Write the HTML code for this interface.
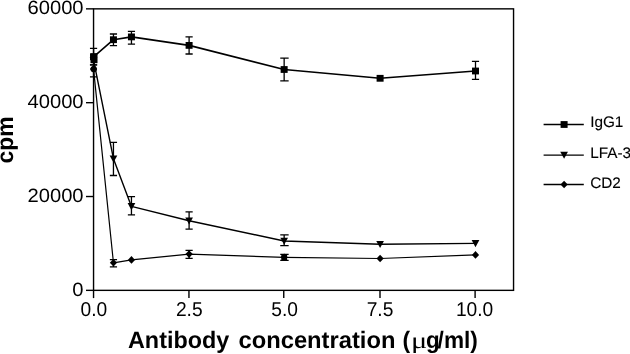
<!DOCTYPE html>
<html><head><meta charset="utf-8"><title>chart</title>
<style>
html,body{margin:0;padding:0;background:#fff;}
body{width:630px;height:354px;overflow:hidden;}
svg{display:block;filter:grayscale(1);}
text{font-family:"Liberation Sans",sans-serif;fill:#000;text-rendering:geometricPrecision;}
.b{font-weight:bold;}
</style></head><body>
<svg width="630" height="354" viewBox="0 0 630 354">
<rect x="0" y="0" width="630" height="354" fill="#fff"/>

<g stroke="#000" stroke-width="1.4" fill="none" stroke-linecap="butt">
<rect x="93.55" y="8.85" width="420" height="281.5"/>
<line x1="86" y1="290.35" x2="93.55" y2="290.35"/>
<line x1="86" y1="196.52" x2="93.55" y2="196.52"/>
<line x1="86" y1="102.68" x2="93.55" y2="102.68"/>
<line x1="86" y1="8.85" x2="93.55" y2="8.85"/>
<line x1="93.55" y1="290.35" x2="93.55" y2="298.1"/>
<line x1="188.95" y1="290.35" x2="188.95" y2="298.1"/>
<line x1="283.75" y1="290.35" x2="283.75" y2="298.1"/>
<line x1="380" y1="290.35" x2="380" y2="298.1"/>
<line x1="475.1" y1="290.35" x2="475.1" y2="298.1"/>
</g>
<text transform="translate(83.6 295.65) scale(1.052 1)" font-size="19.2" text-anchor="end">0</text>
<text transform="translate(83.6 201.82) scale(1.052 1)" font-size="19.2" text-anchor="end">20000</text>
<text transform="translate(83.6 107.98) scale(1.052 1)" font-size="19.2" text-anchor="end">40000</text>
<text transform="translate(83.6 14.15) scale(1.052 1)" font-size="19.2" text-anchor="end">60000</text>
<text transform="translate(93.85 315.6) scale(0.96 1)" font-size="20" text-anchor="middle">0.0</text>
<text transform="translate(189.24 315.6) scale(0.96 1)" font-size="20" text-anchor="middle">2.5</text>
<text transform="translate(284.62 315.6) scale(0.96 1)" font-size="20" text-anchor="middle">5.0</text>
<text transform="translate(380.01 315.6) scale(0.96 1)" font-size="20" text-anchor="middle">7.5</text>
<text transform="translate(474.6 315.6) scale(0.96 1)" font-size="20" text-anchor="middle">10.0</text>
<text class="b" transform="translate(128.0 347.6) scale(0.986 1)" font-size="23.7">Antibody</text>
<text class="b" transform="translate(238.5 347.6) scale(1.002 1)" font-size="23.7">concentration</text>
<text class="b" transform="translate(402.6 347.6) scale(0.97 1)" font-size="23.7">(</text>
<text transform="translate(410.9 347.6) scale(1.32 1)" font-family="Liberation Serif" font-size="23" style="font-family:'Liberation Serif',serif">μ</text>
<text class="b" transform="translate(425.9 347.6) scale(0.943 1)" font-size="23.7">g</text>
<text class="b" transform="translate(437.6 347.6) scale(0.955 1)" font-size="23.7">/ml)</text>
<text class="b" transform="translate(13.3 163.4) rotate(-90) scale(0.98 1)" font-size="23.3">cpm</text>
<polyline points="93.55,56.8 113.45,39.7 131.45,36.9 189.1,45.4 284.15,69.5 380.1,78.3 475.5,71" fill="none" stroke="#000" stroke-width="1.6" stroke-linejoin="round"/>
<path d="M93.55 48.3V64.9M89.95 48.3H97.15M89.95 64.9H97.15" stroke="#000" stroke-width="1.3" fill="none"/>
<rect x="90.05" y="53.4" width="7" height="6.8" fill="#000"/>
<path d="M113.45 34V45.6M109.85 34H117.05M109.85 45.6H117.05" stroke="#000" stroke-width="1.3" fill="none"/>
<rect x="109.95" y="36.3" width="7" height="6.8" fill="#000"/>
<path d="M131.45 31.4V44.1M127.85 31.4H135.05M127.85 44.1H135.05" stroke="#000" stroke-width="1.3" fill="none"/>
<rect x="127.95" y="33.5" width="7" height="6.8" fill="#000"/>
<path d="M189.1 36.8V54M185.5 36.8H192.7M185.5 54H192.7" stroke="#000" stroke-width="1.3" fill="none"/>
<rect x="185.6" y="42" width="7" height="6.8" fill="#000"/>
<path d="M284.15 58.2V80.8M280.25 58.2H288.65M280.25 80.8H288.65" stroke="#000" stroke-width="1.3" fill="none"/>
<rect x="280.65" y="66.1" width="7" height="6.8" fill="#000"/>
<rect x="376.6" y="74.9" width="7" height="6.8" fill="#000"/>
<path d="M475.5 61.3V79.4M471.9 61.3H479.1M471.9 79.4H479.1" stroke="#000" stroke-width="1.3" fill="none"/>
<rect x="472" y="67.6" width="7" height="6.8" fill="#000"/>
<polyline points="93.55,60.2 113.45,158.7 131.45,206.4 189.1,220.7 284.15,241 380.1,244.3 475.5,243.4" fill="none" stroke="#000" stroke-width="1.4" stroke-linejoin="round"/>
<path d="M89.7 56.9H97.4L93.55 63.95Z" fill="#000"/>
<path d="M113.45 142.3V175.5M109.85 142.3H117.05M109.85 175.5H117.05" stroke="#000" stroke-width="1.3" fill="none"/>
<path d="M109.6 155.4H117.3L113.45 162.45Z" fill="#000"/>
<path d="M131.45 196.7V214.9M127.85 196.7H135.05M127.85 214.9H135.05" stroke="#000" stroke-width="1.3" fill="none"/>
<path d="M127.6 203.1H135.3L131.45 210.15Z" fill="#000"/>
<path d="M189.1 211.9V229.1M185.5 211.9H192.7M185.5 229.1H192.7" stroke="#000" stroke-width="1.3" fill="none"/>
<path d="M185.25 217.4H192.95L189.1 224.45Z" fill="#000"/>
<path d="M284.15 234.8V245.6M280.25 234.8H288.65M280.25 245.6H288.65" stroke="#000" stroke-width="1.3" fill="none"/>
<path d="M280.3 237.7H288L284.15 244.75Z" fill="#000"/>
<path d="M376.25 241H383.95L380.1 248.05Z" fill="#000"/>
<path d="M471.65 240.1H479.35L475.5 247.15Z" fill="#000"/>
<polyline points="93.55,69.1 113.45,262.8 131.45,259.9 189.1,254.1 284.15,257.3 380.1,258.5 475.5,254.9" fill="none" stroke="#000" stroke-width="1.2" stroke-linejoin="round"/>
<path d="M93.55 64.9V76.8M89.95 64.9H97.15M89.95 76.8H97.15" stroke="#000" stroke-width="1.3" fill="none"/>
<path d="M93.55 65.3L97.15 69.1L93.55 72.9L89.95 69.1Z" fill="#000"/>
<path d="M113.45 259.6V266.8M109.85 259.6H117.05M109.85 266.8H117.05" stroke="#000" stroke-width="1.3" fill="none"/>
<path d="M113.45 259L117.05 262.8L113.45 266.6L109.85 262.8Z" fill="#000"/>
<path d="M131.45 256.1L135.05 259.9L131.45 263.7L127.85 259.9Z" fill="#000"/>
<path d="M189.1 250.4V258.3M185.5 250.4H192.7M185.5 258.3H192.7" stroke="#000" stroke-width="1.3" fill="none"/>
<path d="M189.1 250.3L192.7 254.1L189.1 257.9L185.5 254.1Z" fill="#000"/>
<path d="M284.15 254.3V260.3M280.25 254.3H288.65M280.25 260.3H288.65" stroke="#000" stroke-width="1.3" fill="none"/>
<path d="M284.15 253.5L287.75 257.3L284.15 261.1L280.55 257.3Z" fill="#000"/>
<path d="M380.1 254.7L383.7 258.5L380.1 262.3L376.5 258.5Z" fill="#000"/>
<path d="M475.5 251.1L479.1 254.9L475.5 258.7L471.9 254.9Z" fill="#000"/>
<rect x="281.3" y="254.3" width="5.8" height="6" fill="#000"/>
<circle cx="93.7" cy="69.1" r="3.2" fill="#000"/>
<rect x="90.5" y="53.3" width="7" height="9.9" fill="#000"/>
<line x1="543.6" y1="124.5" x2="583.8" y2="124.5" stroke="#000" stroke-width="1.3"/>
<rect x="560.6" y="121.1" width="7" height="6.8" fill="#000"/>
<text x="590.2" y="126.9" font-size="15.3" stroke="#000" stroke-width="0.12">IgG1</text>
<line x1="543.6" y1="155.1" x2="583.8" y2="155.1" stroke="#000" stroke-width="1.3"/>
<path d="M560.25 151.8H567.95L564.1 158.85Z" fill="#000"/>
<text x="590.2" y="157.9" font-size="15.3" stroke="#000" stroke-width="0.12">LFA-3</text>
<line x1="543.6" y1="184.5" x2="583.8" y2="184.5" stroke="#000" stroke-width="1.3"/>
<path d="M564.1 180.7L567.7 184.5L564.1 188.3L560.5 184.5Z" fill="#000"/>
<text x="590.2" y="187.9" font-size="15.3" stroke="#000" stroke-width="0.12">CD2</text>
</svg>
</body></html>
